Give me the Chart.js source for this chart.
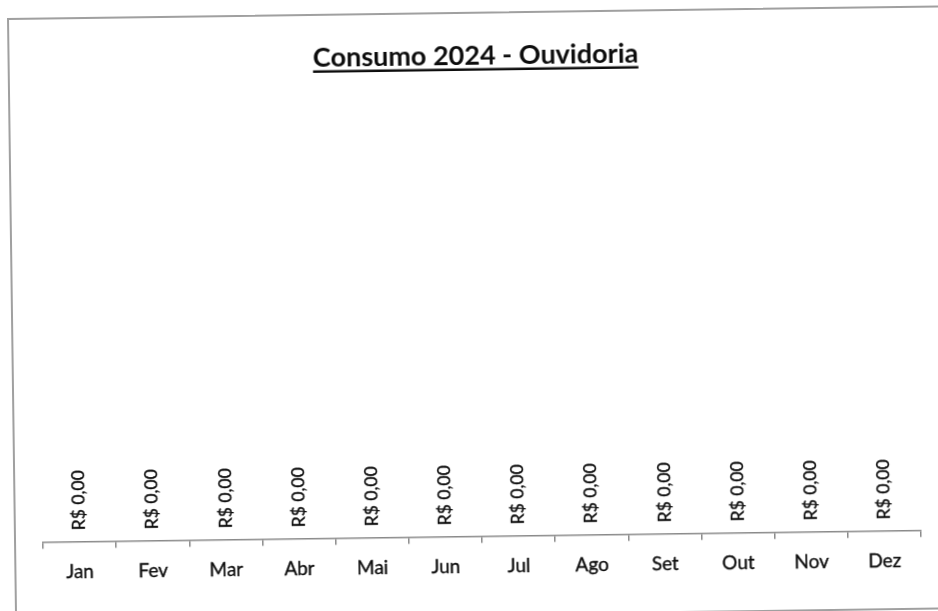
<!DOCTYPE html>
<html lang="pt-BR">
<head>
    <meta charset="UTF-8">
    <title>Consumo 2024 - Ouvidoria</title>
    <script src="https://cdn.jsdelivr.net/npm/chart.js"></script>
    <style>
        html, body {
            margin: 0;
            padding: 0;
            background: #fff;
            overflow: hidden;
        }
        body {
            width: 938px;
            height: 611px;
            position: relative;
        }
        .box {
            position: absolute;
            left: 7px;
            top: 18px;
            width: 960px;
            height: 600px;
            border: 2px solid #a0a0a0;
            transform-origin: 0 0;
            transform: rotate(-0.77deg);
            background: #fff;
        }
        #myChart {
            display: block;
            width: 960px;
            height: 600px;
        }
    </style>
</head>
<body>
    <div class="box">
        <canvas id="myChart" width="960" height="600"></canvas>
    </div>

    <script>
        const titleText = 'Consumo 2024 - Ouvidoria';
        const months = ['Jan', 'Fev', 'Mar', 'Abr', 'Mai', 'Jun', 'Jul', 'Ago', 'Set', 'Out', 'Nov', 'Dez'];
        const consumo = [0, 0, 0, 0, 0, 0, 0, 0, 0, 0, 0, 0];

        const fontFamily = 'Lato, "Open Sans", sans-serif';
        const textColor = '#0d0d0d';

        function formatBRL(v) {
            return 'R$ ' + v.toFixed(2).replace('.', ',');
        }

        // rotated value labels sitting on top of each bar
        const valueLabels = {
            id: 'valueLabels',
            afterDatasetsDraw(chart) {
                const ctx = chart.ctx;
                const meta = chart.getDatasetMeta(0);
                ctx.save();
                ctx.font = '17.5px ' + fontFamily;
                ctx.fillStyle = textColor;
                ctx.strokeStyle = textColor;
                ctx.lineWidth = 0.35;
                ctx.textAlign = 'left';
                ctx.textBaseline = 'middle';
                meta.data.forEach((bar, i) => {
                    const top = Math.min(bar.y, bar.base);
                    ctx.save();
                    ctx.translate(bar.x, top - 12);
                    ctx.rotate(-Math.PI / 2);
                    ctx.fillText(formatBRL(consumo[i]), 0, 0);
                    ctx.strokeText(formatBRL(consumo[i]), 0, 0);
                    ctx.restore();
                });
                ctx.restore();
            }
        };

        // underline under the title
        const titleUnderline = {
            id: 'titleUnderline',
            afterDraw(chart) {
                const tb = chart.titleBlock;
                if (!tb) return;
                const opts = chart.options.plugins.title;
                const size = opts.font.size;
                const ctx = chart.ctx;
                ctx.save();
                ctx.font = 'bold ' + size + 'px ' + fontFamily;
                const w = ctx.measureText(titleText).width;
                const cx = tb.left + tb.width / 2;
                const midY = tb.top + opts.padding.top + size * 1.2 / 2;
                const y = midY + size * 0.5;
                ctx.strokeStyle = textColor;
                ctx.lineWidth = 2.5;
                ctx.beginPath();
                ctx.moveTo(cx - w / 2, y);
                ctx.lineTo(cx + w / 2, y);
                ctx.stroke();
                ctx.restore();
            }
        };

        const ctx = document.getElementById('myChart').getContext('2d');
        new Chart(ctx, {
            type: 'bar',
            data: {
                labels: months,
                datasets: [{
                    label: 'Consumo',
                    data: consumo,
                    backgroundColor: '#4f81bd',
                    borderWidth: 0
                }]
            },
            options: {
                responsive: false,
                animation: false,
                devicePixelRatio: 1,
                layout: {
                    padding: { left: 27, right: 55, top: 26, bottom: 24 }
                },
                plugins: {
                    legend: { display: false },
                    tooltip: { enabled: false },
                    title: {
                        display: true,
                        text: titleText,
                        color: textColor,
                        font: { family: fontFamily, size: 27, weight: 'bold' },
                        padding: { top: 0, bottom: 20 }
                    }
                },
                scales: {
                    x: {
                        grid: {
                            offset: true,
                            drawOnChartArea: false,
                            drawTicks: true,
                            tickLength: 6,
                            color: '#8a8a8a',
                            lineWidth: 1.5
                        },
                        border: { display: true, color: '#8a8a8a', width: 1.5 },
                        ticks: {
                            color: textColor,
                            font: { family: fontFamily, size: 19 },
                            textStrokeColor: textColor,
                            textStrokeWidth: 0.35,
                            padding: 12,
                            maxRotation: 0
                        }
                    },
                    y: {
                        display: false,
                        min: 0,
                        max: 1000
                    }
                }
            },
            plugins: [valueLabels, titleUnderline]
        });
    </script>
</body>
</html>
